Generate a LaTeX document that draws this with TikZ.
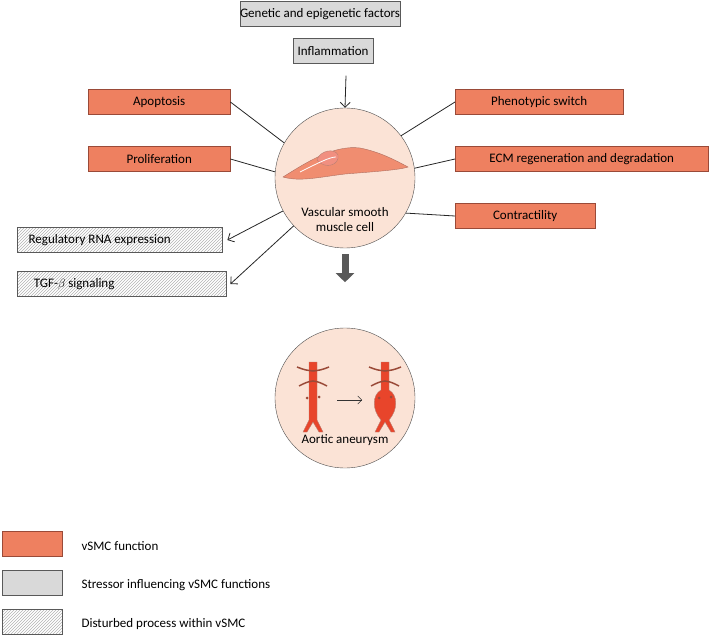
\documentclass[tikz,border=0pt]{standalone}
\usepackage{fontspec}
\setmainfont{Carlito}
\usetikzlibrary{patterns,arrows.meta}
\definecolor{smcorange}{HTML}{EE8060}
\definecolor{smcborder}{HTML}{9A4A38}
\definecolor{cellfill}{HTML}{FBE3D6}
\definecolor{vesselred}{HTML}{E8452B}
\tikzset{
  fn/.style={draw=smcborder,fill=smcorange,minimum height=25pt,anchor=west,inner sep=0pt},
  stress/.style={draw=gray!70!black,fill=gray!30,minimum height=25pt,inner sep=0pt},
  dist/.style={draw=gray!70!black,pattern=north east lines,pattern color=gray!60,minimum height=25pt,anchor=west,inner sep=0pt},
  link/.style={thick,black!85},
  pointer/.style={thick,black!85,-{Straight Barb[length=5pt]}},
}
\begin{document}
\begin{tikzpicture}[x=1pt,y=-1pt,font=\fontsize{13}{15}\selectfont]
  \useasboundingbox (0,0) rectangle (709,636);

  % stressors
  \node[stress,minimum width=160pt] (genetic) at (320,14) {Genetic and epigenetic factors};
  \node[stress,minimum width=80pt] (inflam) at (333,51) {Inflammation};

  % cell
  \node[circle,draw=gray!60!black,fill=cellfill,minimum size=140pt] (cell) at (345,178) {};
  \node[align=center] (celltext) at (345,220) {Vascular smooth\\muscle cell};
  \draw[smcborder!80,fill=smcorange!90] (283,177) .. controls (310,160) and (335,145) .. (360,148)
    .. controls (380,152) and (395,160) .. (408,167) .. controls (400,170) and (370,172) .. (345,174)
    .. controls (320,177) and (300,182) .. cycle;
  \draw[smcborder!70,fill=vesselred!60] (317,160) .. controls (320,150) and (335,148) .. (338,155)
    .. controls (340,165) and (325,170) .. cycle;
  \draw[white,thick] (300,172) .. controls (320,162) and (330,157) .. (336,157);

  % functions
  \node[fn,minimum width=142pt] (apop) at (88,102) {Apoptosis};
  \node[fn,minimum width=142pt] (prolif) at (88,159) {Proliferation};
  \node[fn,minimum width=168pt] (pheno) at (455,102) {Phenotypic switch};
  \node[fn,minimum width=253pt] (ecm) at (455,159) {ECM regeneration and degradation};
  \node[fn,minimum width=140pt] (contr) at (455,216) {Contractility};

  % disturbed processes
  \node[dist,minimum width=205pt] (rna) at (17,240) {\hspace*{-40pt}Regulatory RNA expression};
  \node[dist,minimum width=209pt] (tgf) at (17,284) {\hspace*{-95pt}TGF-$\beta$ signaling};

  \draw[pointer] (inflam.south) ++(13,12) coordinate (inflamtip) -- (cell.north);
  \draw[link] (apop.east) -- (cell.150);
  \draw[link] (prolif.east) -- (cell.175);
  \draw[link] (pheno.west) -- (cell.37);
  \draw[link] (ecm.west) -- (cell.8);
  \draw[link] (contr.west) -- (cell.-30);
  \draw[pointer] (cell.-152) -- ([xshift=5pt]rna.east);
  \draw[pointer] (cell.-137) -- ([xshift=4pt]tgf.east);

  % aneurysm
  \node[circle,draw=gray!60!black,fill=cellfill,minimum size=140pt] (aneur) at (345,398) {};
  \node (aneurtext) at (345,440) {Aortic aneurysm};
  \draw[-{Triangle[length=9pt,width=18pt]},line width=7pt,gray!70!black] (cell.south) ++(0,6) -- ++(0,28) coordinate (bigtip);
  \foreach \vx/\bulge in {313/0,385/9}{
    \fill[vesselred,draw=smcborder!70] (\vx-4,362) -- (\vx+4,362) -- (\vx+4,390)
      .. controls (\vx+4+\bulge,395) and (\vx+4+\bulge,410) .. (\vx+4,420)
      -- (\vx+10,432) -- (\vx+6,432) -- (\vx,422) -- (\vx-6,432) -- (\vx-10,432) -- (\vx-4,420)
      .. controls (\vx-4-\bulge,410) and (\vx-4-\bulge,395) .. (\vx-4,390) -- cycle;
    \draw[smcborder,line width=1.5pt] (\vx-16,367) .. controls (\vx-8,370) .. (\vx,371) .. controls (\vx+8,370) .. (\vx+16,367);
    \draw[smcborder,line width=1.5pt] (\vx-14,386) .. controls (\vx-6,382) .. (\vx,381) .. controls (\vx+6,382) .. (\vx+14,386);
    \fill[smcborder] (\vx-6,398) circle (1.5pt) (\vx+6,397) circle (1.5pt);
  }
  \draw[-{Straight Barb[length=4pt]},black!80] (337,400) -- (362,400);

  % legend
  \node[fn,minimum width=60pt] (legfn) at (2,544) {};
  \node[stress,minimum width=60pt,anchor=west] (legstress) at (2,583) {};
  \node[dist,minimum width=60pt] (legdist) at (2,622) {};
  \node[anchor=west] at (78,546) {vSMC function};
  \node[anchor=west] at (78,585) {Stressor influencing vSMC functions};
  \node[anchor=west] at (78,624) {Disturbed process within vSMC};
\end{tikzpicture}
\end{document}
